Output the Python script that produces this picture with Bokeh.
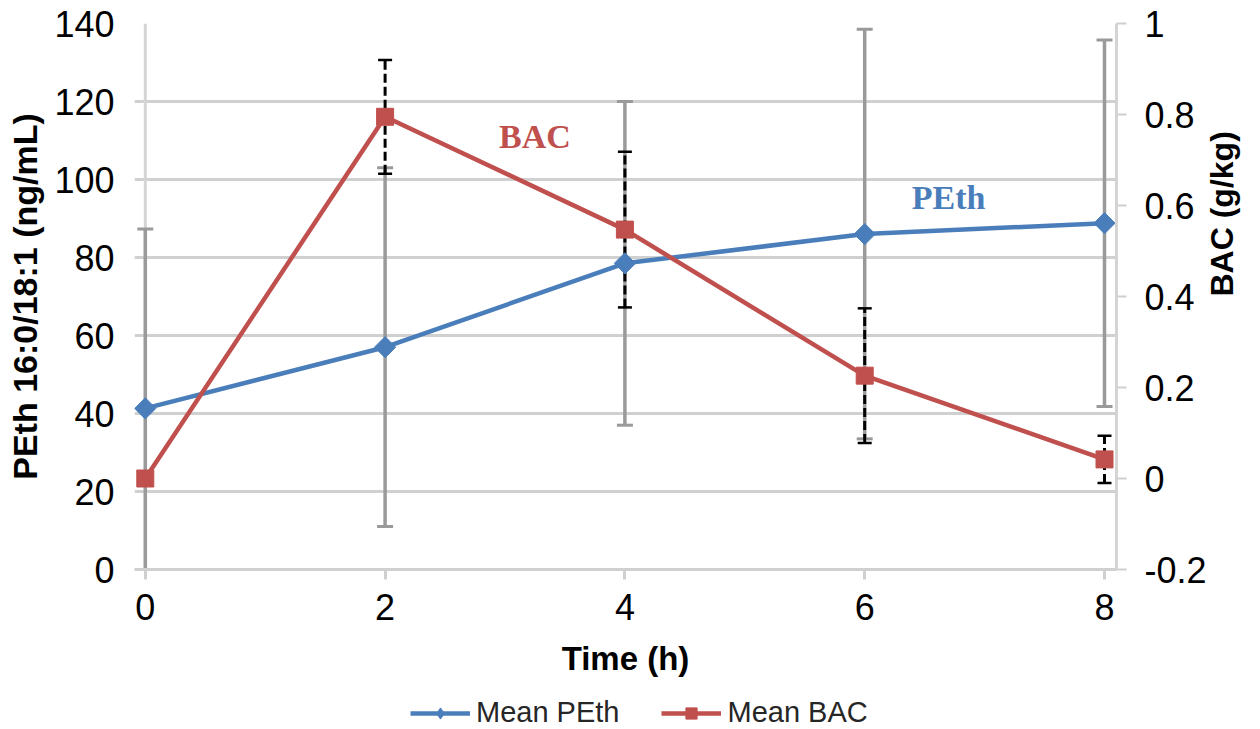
import numpy as np
from bokeh.plotting import figure
from bokeh.layouts import column
from bokeh.models import (Range1d, LinearAxis, FixedTicker, NumeralTickFormatter,
                          Legend, LegendItem, Span)
from bokeh.core.properties import value
from bokeh.embed import file_html
from bokeh.resources import INLINE

# ---- data ----
time_h = [0, 2, 4, 6, 8]
peth_mean = [41.3, 57.0, 78.5, 86.0, 88.8]
peth_err = [46.0, 46.0, 41.5, 52.5, 47.0]
bac_mean = [0.0, 0.795, 0.547, 0.226, 0.042]
bac_err = [0.0, 0.125, 0.171, 0.148, 0.052]

x_ticks = [0, 2, 4, 6, 8]
left_ticks = [0, 20, 40, 60, 80, 100, 120, 140]
right_ticks = [-0.2, 0.0, 0.2, 0.4, 0.6, 0.8, 1.0]

x_title = "Time (h)"
left_title = "PEth 16:0/18:1 (ng/mL)"
right_title = "BAC (g/kg)"
series_names = ["Mean PEth", "Mean BAC"]

BLUE = "#4a7ebb"
RED = "#c0504d"
GRID = "#d0d0d0"
FONT = "Liberation Sans"

p = figure(width=1260, height=680,
           min_border_left=134, min_border_right=143,
           min_border_top=23, min_border_bottom=111,
           x_range=Range1d(-0.09, 8.1), y_range=Range1d(0, 140),
           output_backend="svg", toolbar_location=None,
           background_fill_color="white", border_fill_color="white")
p.outline_line_color = None
p.extra_y_ranges = {"bac": Range1d(-0.2, 1.0)}

# grids
p.xgrid.grid_line_color = None
p.ygrid.grid_line_color = GRID
p.ygrid.grid_line_width = 3

# x axis
xa = p.xaxis[0]
xa.ticker = FixedTicker(ticks=x_ticks)
xa.axis_line_color = GRID
xa.axis_line_width = 3
xa.major_tick_out = 10
xa.major_tick_in = 0
xa.major_tick_line_color = GRID
xa.major_tick_line_width = 3
xa.minor_tick_line_color = None
xa.major_label_text_font = FONT
xa.major_label_text_font_size = "36px"
xa.major_label_text_color = "black"
xa.major_label_standoff = 14
xa.axis_label = x_title
xa.axis_label_text_font = FONT
xa.axis_label_text_font_size = "33px"
xa.axis_label_text_font_style = "bold"
xa.axis_label_text_color = "black"
xa.axis_label_standoff = 17

# left axis
ya = p.yaxis[0]
ya.ticker = FixedTicker(ticks=left_ticks)
p.ygrid.ticker = FixedTicker(ticks=left_ticks)
ya.axis_line_color = None
ya.major_tick_out = 0
ya.major_tick_in = 0
ya.minor_tick_line_color = None
ya.major_label_text_font = FONT
ya.major_label_text_font_size = "36px"
ya.major_label_text_color = "black"
ya.major_label_standoff = 20
ya.axis_label = left_title
ya.axis_label_text_font = FONT
ya.axis_label_text_font_size = "34px"
ya.axis_label_text_font_style = "bold"
ya.axis_label_text_color = "black"
ya.axis_label_standoff = 7

# right axis
ra = LinearAxis(y_range_name="bac", ticker=FixedTicker(ticks=right_ticks),
                formatter=NumeralTickFormatter(format="0.[0]"))
ra.axis_line_color = "#d4d4d4"
ra.axis_line_width = 3
ra.major_tick_out = 10
ra.major_tick_in = 0
ra.major_tick_line_color = GRID
ra.major_tick_line_width = 2
ra.minor_tick_line_color = None
ra.major_label_text_font = FONT
ra.major_label_text_font_size = "36px"
ra.major_label_text_color = "black"
ra.major_label_standoff = 18
ra.axis_label = right_title
ra.axis_label_text_font = FONT
ra.axis_label_text_font_size = "32px"
ra.axis_label_text_font_style = "bold"
ra.axis_label_text_color = "black"
ra.axis_label_standoff = 12
try:
    ra.axis_label_orientation = np.pi / 2
except Exception:
    pass
p.add_layout(ra, "right")

# vertical axis line at x = 0
p.add_layout(Span(location=0, dimension="height", line_color="#d4d4d4",
                  line_width=3, level="underlay"))

# ---- error bars ----
t = np.array(time_h, dtype=float)
pm = np.array(peth_mean); pe = np.array(peth_err)
bm = np.array(bac_mean); be = np.array(bac_err)

p.segment(x0=t, y0=pm - pe, x1=t, y1=pm + pe, line_color="#9a9a9a", line_width=3.5)
p.scatter(x=np.concatenate([t, t]), y=np.concatenate([pm - pe, pm + pe]),
          marker="dash", size=16, line_color="#9a9a9a", line_width=3)

p.segment(x0=t, y0=bm - be, x1=t, y1=bm + be, line_color="black", line_width=3,
          line_dash="9 4", y_range_name="bac")
p.scatter(x=np.concatenate([t, t]), y=np.concatenate([bm - be, bm + be]),
          marker="dash", size=14, line_color="black", line_width=2.5,
          y_range_name="bac")

# ---- series ----
p.line(t, pm, line_color=BLUE, line_width=4.5)
p.scatter(t, pm, marker="square", angle=np.pi / 4, size=15,
          fill_color=BLUE, line_color=BLUE)
p.line(t, bm, line_color=RED, line_width=4.5, y_range_name="bac")
p.scatter(t, bm, marker="square", size=17, fill_color=RED, line_color=RED,
          y_range_name="bac")

# in-plot labels
p.text(x=[3.25], y=[111.0], text=["BAC"], text_align="center",
       text_baseline="alphabetic", text_color=RED,
       text_font=value("Liberation Serif"), text_font_style="bold",
       text_font_size="34px")
p.text(x=[6.70], y=[95.5], text=["PEth"], text_align="center",
       text_baseline="alphabetic", text_color=BLUE,
       text_font=value("Liberation Serif"), text_font_style="bold",
       text_font_size="34px")

# ---- legend strip (frame aligned with the main plot by the column) ----
lg = figure(width=1260, height=49, x_range=Range1d(0, 1), y_range=Range1d(0, 1),
            x_axis_type=None, y_axis_type=None, min_border=0,
            output_backend="svg", toolbar_location=None)
lg.outline_line_color = None
lg.grid.visible = False
ox, oy = [-10], [-10]   # off-screen dummy point so the legend glyphs are drawn
lb1 = lg.line(ox, oy, line_color=BLUE, line_width=4.5)
lb2 = lg.scatter(ox, oy, marker="diamond", size=15,
                 fill_color=BLUE, line_color=BLUE)
lr1 = lg.line(ox, oy, line_color=RED, line_width=4.5)
lr2 = lg.scatter(ox, oy, marker="square", size=12, fill_color=RED, line_color=RED)
legend = Legend(items=[LegendItem(label=series_names[0], renderers=[lb1, lb2]),
                       LegendItem(label=series_names[1], renderers=[lr1, lr2])],
                orientation="horizontal", location=(276, 0),
                glyph_width=60, glyph_height=28, label_standoff=6, spacing=42,
                padding=0, margin=0, border_line_color=None,
                background_fill_alpha=0,
                label_text_font=FONT, label_text_font_size="29px",
                label_text_color="#262626")
lg.add_layout(legend, "center")

layout = column(p, lg, spacing=0)
open("out.html", "w").write(file_html(layout, INLINE))
